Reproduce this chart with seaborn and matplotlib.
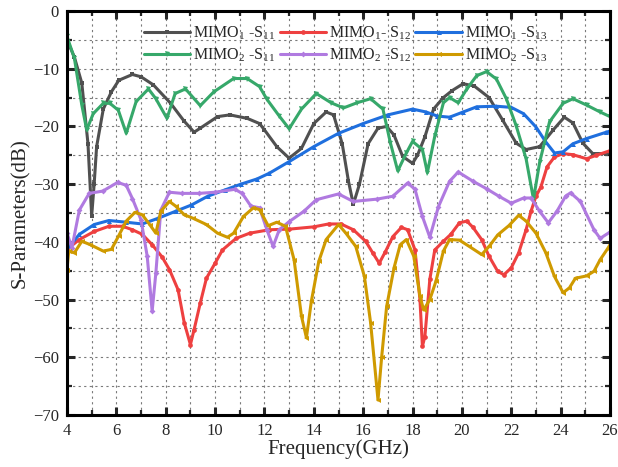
import numpy as np
import pandas as pd
import matplotlib
matplotlib.use("Agg")
import matplotlib.pyplot as plt
from matplotlib.ticker import MultipleLocator
import seaborn as sns

# ---------------- data ----------------
m1s11_x = [4.0, 4.3, 4.6, 4.85, 5.0, 5.1, 5.2, 5.47, 5.8, 6.1, 6.65, 7.0, 7.5, 8.2, 8.73, 9.15, 9.4,
           10.1, 10.6, 11.3, 11.8, 12.0, 12.5, 13.0, 13.5, 14.0, 14.5, 14.8, 15.15, 15.4, 15.6, 15.85,
           16.2, 16.6, 16.95, 17.25, 17.6, 18.0, 18.2, 18.5, 18.85, 19.25, 19.6, 20.05, 20.5, 21.1,
           21.65, 22.2, 22.6, 23.15, 23.7, 24.15, 24.5, 24.9, 25.3, 25.85, 26.0]
m1s11_y = [-5, -8, -12.5, -23, -35.5, -30, -23.5, -17, -14, -12, -11, -11.4, -12.8, -16, -19, -21, -20.3,
           -18.3, -18, -18.6, -19.5, -20.6, -23.5, -25.5, -23.8, -19.5, -17.5, -18, -23, -29.4, -33.5, -30,
           -23, -20.3, -20, -21.5, -25.2, -26.4, -25, -21.8, -17, -15, -13.8, -12.6, -13, -15,
           -18.9, -22.9, -24, -23.5, -20.6, -18.4, -19.4, -22.9, -24.7, -24.7, -24.5]

m1s12_x = [4.0, 4.5, 5.1, 5.7, 6.25, 6.65, 7.05, 7.45, 7.85, 8.15, 8.5, 8.75, 9.0, 9.15, 9.4, 9.65, 10.0,
           10.3, 10.85, 11.4, 12.2, 13.0, 14.0, 14.6, 15.1, 15.6, 16.1, 16.4, 16.65, 16.9, 17.2, 17.55,
           17.8, 18.1, 18.3, 18.4, 18.5, 18.7, 18.9, 19.25, 19.55, 19.9, 20.2, 20.45, 20.8, 21.1, 21.45,
           21.7, 22.0, 22.3, 22.6, 22.8, 23.0, 23.2, 23.45, 23.75, 24.1, 24.5, 25.05, 25.45, 26.0]
m1s12_y = [-41.3, -39.6, -38.2, -37.3, -37.3, -37.9, -38.7, -40.5, -42.6, -44.8, -48.3, -54, -57.8, -55.2,
           -50.6, -46.3, -43.7, -41.4, -39.4, -38.5, -37.9, -37.8, -37.4, -36.9, -36.9, -37.9, -39.9, -42,
           -43.7, -41.7, -39.1, -37.5, -37.9, -41.4, -50, -58.1, -56.4, -46.5, -41.4, -39.9, -38.7, -36.7,
           -36.4, -37.5, -39.6, -42.5, -45.1, -45.7, -44.5, -41.9, -37.9, -34.7, -32.1, -30.5, -27, -25.3,
           -24.7, -24.9, -25.6, -25, -24.2]

m1s13_x = [4.0, 4.5, 5.1, 5.7, 6.4, 7.05, 7.7, 8.4, 9.05, 9.7, 10.4, 11.05, 11.7, 12.2, 13.0, 14.0, 15.0,
           16.0, 17.0, 18.0, 18.55, 19.0, 19.5, 20.05, 20.6, 21.4, 22.0, 22.5, 23.0, 23.4, 23.75, 24.1,
           24.5, 25.05, 25.85, 26.0]
m1s13_y = [-41.3, -38.7, -37, -36.3, -36.6, -36.9, -35.9, -34.7, -33.6, -32.1, -31, -30, -29.1, -28.1,
           -26.1, -23.5, -21.2, -19.5, -18, -17, -17.5, -18.2, -18.4, -17.5, -16.6, -16.5, -16.7, -17.8,
           -20.1, -22.7, -24.6, -24.4, -23, -22.1, -21, -20.8]

m2s11_x = [4.0, 4.3, 4.6, 4.8, 5.06, 5.47, 5.74, 6.08, 6.4, 6.8, 7.3, 7.6, 8.05, 8.38, 8.8, 9.4, 9.95,
           10.75, 11.3, 11.8, 12.1, 12.6, 13.0, 13.5, 14.1, 14.7, 15.2, 15.75, 16.3, 16.8, 17.1, 17.4,
           17.75, 18.0, 18.4, 18.6, 18.9, 19.25, 19.5, 19.85, 20.2, 20.6, 21.0, 21.4, 21.8, 22.2, 22.6,
           22.9, 23.15, 23.55, 24.1, 24.5, 25.05, 25.6, 26.0]
m2s11_y = [-4.4, -8.2, -16.3, -20.6, -17.8, -16, -16, -17.2, -21.2, -15.7, -13.5, -15.2, -18.6, -14.3,
           -13.5, -16.4, -14, -11.7, -11.7, -13.1, -15.3, -18.2, -20.4, -17, -14.3, -15.9, -16.8, -15.9,
           -15.2, -17, -22.8, -27.7, -24.6, -22.6, -24, -28, -21.7, -15.9, -15, -15.9, -13.5, -11.2,
           -10.5, -11.8, -15.2, -19.9, -25.6, -32.6, -26.2, -19.2, -16, -15.2, -16.3, -17.5, -18.3]

m2s12_x = [4.0, 4.2, 4.5, 4.9, 5.45, 6.05, 6.4, 6.65, 7.0, 7.25, 7.45, 7.6, 7.8, 8.15, 8.65, 9.35, 10.0,
           10.8, 11.1, 11.45, 11.8, 12.1, 12.35, 12.6, 13.0, 13.6, 14.1, 15.0, 15.6, 16.55, 17.2, 17.8,
           18.1, 18.4, 18.7, 19.05, 19.5, 19.85, 20.45, 21.0, 21.5, 22.0, 22.5, 22.8, 23.15, 23.5, 23.85,
           24.2, 24.4, 24.8, 25.35, 25.6, 26.0]
m2s12_y = [-38.5, -41, -34.5, -31.6, -31.2, -29.7, -30.2, -32.5, -36.2, -42.5, -52, -45.4, -34.5, -31.4,
           -31.6, -31.6, -31.4, -30.9, -31.6, -33.8, -34.1, -37.9, -40.8, -37.9, -36.5, -34.7, -32.7,
           -31.7, -33, -32.6, -32.1, -29.8, -30.9, -35.6, -39.2, -33.9, -29.5, -27.9, -29.5, -30.8,
           -32.1, -33.3, -32.4, -32.4, -34.7, -36.7, -34.7, -32.1, -31.5, -33, -37.9, -39.4, -38.3]

m2s13_x = [4.0, 4.07, 4.3, 4.6, 4.95, 5.47, 5.8, 6.1, 6.4, 6.75, 7.05, 7.35, 7.6, 7.8, 8.15, 8.4, 8.75,
           9.1, 9.65, 10.1, 10.5, 10.75, 11.15, 11.55, 11.8, 12.15, 12.5, 12.85, 13.2, 13.5, 13.7, 13.9,
           14.2, 14.5, 15.0, 15.3, 15.7, 16.05, 16.3, 16.6, 16.75, 16.95, 17.25, 17.5, 17.75, 18.05,
           18.3, 18.45, 18.7, 18.95, 19.25, 19.5, 19.9, 20.3, 20.8, 21.1, 21.45, 21.9, 22.3, 22.6, 23.0,
           23.4, 23.75, 24.1, 24.35, 24.6, 25.05, 25.35, 25.6, 25.9, 26.0]
m2s13_y = [-44.8, -41.6, -41.9, -39.9, -40.5, -41.6, -41.3, -38.9, -36.4, -34.9, -35.3, -37, -38.5,
           -34.7, -33, -33.8, -35.3, -35.9, -37, -38.5, -39.2, -38.5, -35.6, -34.1, -34.4, -37.2, -36.6,
           -37.3, -43.1, -52.9, -56.6, -50.3, -43.4, -39.6, -37, -38.5, -40.8, -46, -54, -67.4, -59.9,
           -51.2, -44.5, -40.5, -39.6, -42.5, -49.4, -51.8, -50, -46.8, -41.6, -39.6, -39.7, -40.8,
           -42.2, -40.8, -38.8, -37.2, -35.4, -36.4, -38.5, -41.9, -46, -48.8, -48, -46.3, -45.9, -45.1,
           -43.1, -41.2, -40.5]

labels = ["MIMO$_1$ -S$_{11}$", "MIMO$_1$- S$_{12}$", "MIMO$_1$ -S$_{13}$",
          "MIMO$_2$ -S$_{11}$", "MIMO$_2$ -S$_{12}$", "MIMO$_2$ -S$_{13}$"]
x_ticks = [4, 6, 8, 10, 12, 14, 16, 18, 20, 22, 24, 26]
y_ticks = [-70, -60, -50, -40, -30, -20, -10, 0]

# ---------------- style ----------------
sns.set_style("ticks")
plt.rcParams["font.family"] = ["Liberation Serif", "DejaVu Serif"]
plt.rcParams["mathtext.fontset"] = "custom"
plt.rcParams["mathtext.rm"] = "Liberation Serif"
plt.rcParams["mathtext.it"] = "Liberation Serif:italic"
plt.rcParams["mathtext.bf"] = "Liberation Serif:bold"
plt.rcParams["axes.unicode_minus"] = True

fig = plt.figure(figsize=(6.18, 4.67), dpi=100)
ax = fig.add_axes([67 / 618, 1 - 415 / 467, (610 - 67) / 618, (415 - 11) / 467])

series = [
    (m1s11_x, m1s11_y, labels[0], "#505050", "s", 3.2),
    (m1s12_x, m1s12_y, labels[1], "#ee4040", "o", 3.4),
    (m1s13_x, m1s13_y, labels[2], "#1f6fde", "^", 3.6),
    (m2s11_x, m2s11_y, labels[3], "#36a86a", "v", 3.6),
    (m2s12_x, m2s12_y, labels[4], "#b07ae0", "D", 3.0),
    (m2s13_x, m2s13_y, labels[5], "#cf9a00", "<", 3.6),
]

handles = {}
for xs, ys, lab, col, mk, ms in series:
    df = pd.DataFrame({"f": xs, "s": ys})
    sns.lineplot(data=df, x="f", y="s", ax=ax, color=col, linewidth=2.2,
                 marker=mk, markersize=ms, markeredgewidth=0, sort=False,
                 estimator=None, label=lab)
    handles[lab] = ax.lines[-1]

ax.set_xlim(4, 26)
ax.set_ylim(-70, 0)
ax.set_xticks(x_ticks)
ax.set_yticks(y_ticks)
ax.xaxis.set_minor_locator(MultipleLocator(1))
ax.yaxis.set_minor_locator(MultipleLocator(5))
ax.grid(True, which="both", color="#7a7a7a", linestyle=(0, (2, 3)), linewidth=0.8)
ax.set_axisbelow(True)
for sp in ax.spines.values():
    sp.set_linewidth(2.2)
    sp.set_color("black")
ax.tick_params(which="major", direction="in", length=6, width=2.2, top=True, right=True,
               labelsize=12, pad=6)
ax.tick_params(which="minor", direction="in", length=3.5, width=1.6, top=True, right=True)

ax.set_xlabel("Frequency(GHz)", fontsize=15, labelpad=0)
ax.set_ylabel("S-Parameters(dB)", fontsize=15, labelpad=2)

order = [labels[0], labels[3], labels[1], labels[4], labels[2], labels[5]]
ax.legend([handles[l] for l in order], order, ncol=3, loc="upper center",
          bbox_to_anchor=(0.513, 0.977), frameon=False, fontsize=11.5,
          handlelength=2.9, handletextpad=0.2, columnspacing=0.25,
          labelspacing=0.33, borderpad=0.25, borderaxespad=0.0)

fig.savefig("out.png", dpi=100)
